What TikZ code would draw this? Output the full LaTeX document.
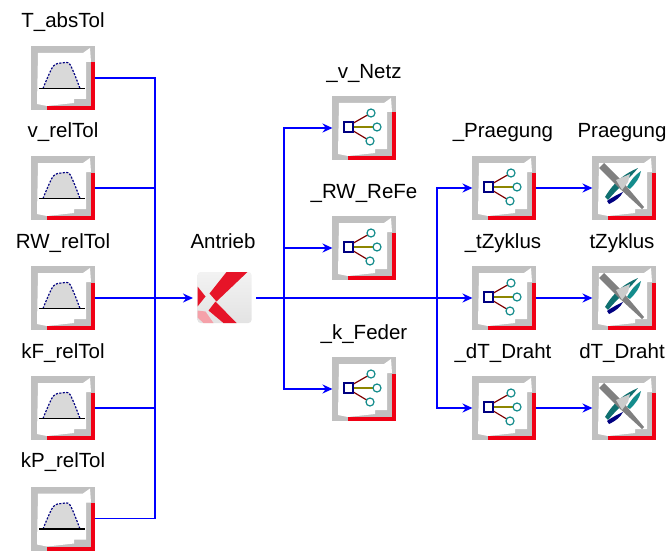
\documentclass[tikz,border=0pt]{standalone}
\usepackage{fontspec}
\setmainfont{Liberation Sans}
\usetikzlibrary{arrows.meta}

\definecolor{wireblue}{RGB}{0,0,255}
\definecolor{framegray}{RGB}{192,192,192}
\definecolor{markred}{RGB}{240,0,20}
\definecolor{xred}{RGB}{230,20,40}
\definecolor{iconteal}{RGB}{20,140,140}
\colorlet{navy}{blue!50!black}

\tikzset{
    wire/.style={wireblue, line width=1.5pt},
    arrowwire/.style={wire, -{Stealth[length=10pt,width=9pt]}},
    blockname/.style={minimum size=63pt, inner sep=0pt, outer sep=0pt},
    labeltext/.style={font=\fontsize{20.5}{24}\selectfont, inner sep=0pt, anchor=base},
    blockframe/.pic={
        % Gray frame with white inside and red corner
        \fill[framegray] (-32,-32) rectangle (32,32);
        \fill[white] (-25,-25) -- (20,-25) -- (27,-30) -- (28,-16) -- (23,-16) -- (23,21)
            -- (11,21) -- (11,25) -- (-16,28) -- (-26,26) -- cycle;
        \fill[markred] (27.5,-15.5) rectangle (32,32);
        \fill[markred] (-16,28) rectangle (32,32);
    },
    gaussblock/.pic={
        \pic {blockframe};
        \fill[gray!30] plot[smooth] coordinates {(-20,10.5) (-10,-11.5) (-1,-15) (7,-13.5) (17,10.5)} -- cycle;
        \draw[navy, line width=1.2pt, dash pattern=on 2pt off 1.5pt]
            plot[smooth] coordinates {(-20,10.5) (-10,-11.5) (-1,-15) (7,-13.5) (17,10.5)};
        \draw[black, line width=1.5pt] (-24,10.5) -- (22,10.5);
    },
    netblock/.pic={
        \pic {blockframe};
        \draw[red!50!black, line width=1.2pt] (-14,-3) -- (7,-15);
        \draw[red!50!black, line width=1.2pt] (-14,1) -- (6,13);
        \draw[olive, line width=1.5pt] (-11,-1) -- (9,-1);
        \draw[navy, line width=1.2pt, fill=white] (-20,-6) rectangle (-11,4);
        \foreach \cx/\cy in {7/-15, 13/-1, 6/13}
            \draw[iconteal, line width=1.2pt, fill=white] (\cx,\cy) circle (4);
    },
    sinkblock/.pic={
        \pic {blockframe};
        % Blue and green arcs
        \fill[iconteal!80!black] (-19,9) .. controls (-10,-6) and (0,-14) .. (14,-20)
            .. controls (6,-10) and (-6,0) .. (-16,12) -- cycle;
        \fill[navy] (-17,13) .. controls (-10,8) and (-5,6) .. (-1,4)
            .. controls (-3,9) and (-10,14) .. (-15,16) -- cycle;
        \fill[iconteal] (3,-1) .. controls (7,-8) and (11,-13) .. (17,-17)
            .. controls (16,-10) and (11,-4) .. (6,1) -- cycle;
        % Gray blade, thicker at the top
        \fill[gray] (-25,-20) -- (-20,-25) -- (-2,-7) -- (20,19) -- (18,21) -- (-6,-1) -- cycle;
        \fill[gray!40] (-8,-8) -- (6,-14) -- (4,-6) -- (-2,2) -- cycle;
    },
    motorblock/.pic={
        \shade[top color=gray!10, bottom color=gray!22, rounded corners=3pt] (-27,-25.5) rectangle (27,25.5);
        \fill[xred] (2,-25.5) -- (23,-25.5) -- (-8,4) -- (-15,-4) -- cycle;
        \fill[xred] (-27,-11) -- (-19,-1) -- (-27,9) -- cycle;
        \fill[xred] (-9,4) -- (12,25.5) -- (-1,25.5) -- (-16,13) -- cycle;
        \fill[xred!40] (-27,13) -- (-19,14) -- (-11,25.5) -- (-21,25.5) -- (-27,20) -- cycle;
    }
}

\begin{document}
\begin{tikzpicture}[x=1pt, y=-1pt]
    \useasboundingbox (0,0) rectangle (670,551);

    % Source blocks
    \foreach \n/\y/\t/\ty in {tabs/78/T\_absTol/28, vrel/188/v\_relTol/138,
        rwrel/298/RW\_relTol/248, kfrel/408/kF\_relTol/358, kprel/518.5/kP\_relTol/467}{
        \pic at (63,\y) {gaussblock};
        \node[blockname] (\n) at (63,\y) {};
        \node[labeltext] (\n label) at (63,\ty) {\t};
    }

    % Middle blocks
    \pic at (224.5,297.5) {motorblock};
    \node[blockname] (antrieb) at (224.5,297.5) {};
    \node[labeltext] (antrieb label) at (223,248) {Antrieb};

    \foreach \n/\y/\t/\ty in {vnetz/128/\_v\_Netz/78, rwrefe/248/\_RW\_ReFe/198, kfeder/389/\_k\_Feder/339}{
        \pic at (364,\y) {netblock};
        \node[blockname] (\n) at (364,\y) {};
        \node[labeltext] (\n label) at (364,\ty) {\t};
    }

    % Right blocks
    \foreach \n/\y/\t/\ty in {praeg/188/\_Praegung/138, tzyk/298/\_tZyklus/248, dtdraht/408/\_dT\_Draht/358}{
        \pic at (504,\y) {netblock};
        \node[blockname] (\n) at (504,\y) {};
        \node[labeltext] (\n label) at (503,\ty) {\t};
    }
    \foreach \n/\y/\t/\ty in {outpraeg/188/Praegung/138, outtzyk/298/tZyklus/248, outdt/408/dT\_Draht/358}{
        \pic at (624,\y) {sinkblock};
        \node[blockname] (\n) at (624,\y) {};
        \node[labeltext] (\n label) at (622,\ty) {\t};
    }

    % Bus on the left
    \coordinate (bus) at (155,298);
    \foreach \n in {tabs,vrel,rwrel,kfrel,kprel}
        \draw[wire] (\n.east) -| (bus);
    \draw[arrowwire] (bus) -- (antrieb.west |- bus);

    % Output of the motor block
    \coordinate (split a) at (284,298);
    \coordinate (split b) at (437,298);
    \draw[wire] (antrieb.east |- bus) -- (split b);
    \draw[arrowwire] (split a) |- (vnetz.west);
    \draw[arrowwire] (split a) |- (rwrefe.west);
    \draw[arrowwire] (split a) |- (kfeder.west);
    \draw[arrowwire] (split b) |- (praeg.west);
    \draw[arrowwire] (split b) -- (tzyk.west);
    \draw[arrowwire] (split b) |- (dtdraht.west);

    % To the last column
    \draw[arrowwire] (praeg.east) -- (outpraeg.west);
    \draw[arrowwire] (tzyk.east) -- (outtzyk.west);
    \draw[arrowwire] (dtdraht.east) -- (outdt.west);
\end{tikzpicture}
\end{document}
